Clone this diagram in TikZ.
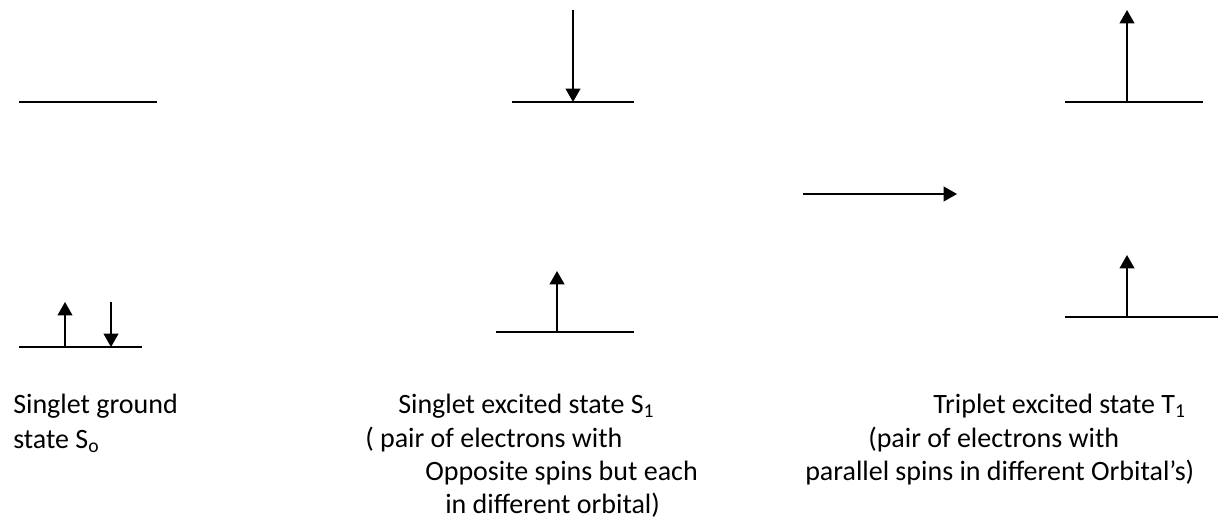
\documentclass[tikz,border=0pt]{standalone}
\usepackage{fontspec}
\setmainfont{Carlito}
\usetikzlibrary{arrows.meta}
\begin{document}
\begin{tikzpicture}[x=0.75pt,y=-0.75pt]

% definitions
\tikzstyle{level} = [line width=1.4pt]
\tikzstyle{spin} = [line width=1.4pt, -{Triangle[width=11pt,length=10pt]}]
\tikzstyle{caption} = [anchor=base west, inner sep=0pt, font=\fontsize{21}{26}\selectfont]

\useasboundingbox (0,0) rectangle (1227,528);

% singlet ground state
\coordinate (g0a) at (19,102);  \coordinate (g0b) at (157,102);
\coordinate (g1a) at (19,347);  \coordinate (g1b) at (142,347);
\coordinate (gup0) at (65,347); \coordinate (gup1) at (65,302);
\coordinate (gdn0) at (111,302); \coordinate (gdn1) at (111,347);

\draw [level] (g0a) -- (g0b);
\draw [level] (g1a) -- (g1b);
\draw [spin] (gup0) -- (gup1);
\draw [spin] (gdn0) -- (gdn1);

% singlet excited state
\coordinate (s0a) at (512,102);  \coordinate (s0b) at (634,102);
\coordinate (s1a) at (496,332);  \coordinate (s1b) at (634,332);
\coordinate (sdn0) at (573,10);  \coordinate (sdn1) at (573,102);
\coordinate (sup0) at (557,332); \coordinate (sup1) at (557,271);

\draw [level] (s0a) -- (s0b);
\draw [level] (s1a) -- (s1b);
\draw [spin] (sdn0) -- (sdn1);
\draw [spin] (sup0) -- (sup1);

% intersystem crossing
\coordinate (isc0) at (803,194); \coordinate (isc1) at (957,194);
\draw [spin] (isc0) -- (isc1);

% triplet excited state
\coordinate (t0a) at (1065,102); \coordinate (t0b) at (1203,102);
\coordinate (t1a) at (1065,317); \coordinate (t1b) at (1218,317);
\coordinate (tup0) at (1127,102); \coordinate (tup1) at (1127,10);
\coordinate (tup2) at (1127,317); \coordinate (tup3) at (1127,255);

\draw [level] (t0a) -- (t0b);
\draw [level] (t1a) -- (t1b);
\draw [spin] (tup0) -- (tup1);
\draw [spin] (tup2) -- (tup3);

% captions
\node (cg1) [caption] at (13,413) {Singlet ground};
\node (cg2) [caption] at (13,448) {state S\textsubscript{o}};

\node (cs1) [caption] at (398,413) {Singlet excited state S\textsubscript{1}};
\node (cs2) [caption] at (365,447) {( pair of electrons with};
\node (cs3) [caption] at (425,480) {Opposite spins but each};
\node (cs4) [caption] at (445,513) {in different orbital)};

\node (ct1) [caption] at (933,413) {Triplet excited state T\textsubscript{1}};
\node (ct2) [caption] at (868,447) {(pair of electrons with};
\node (ct3) [caption] at (805,480) {parallel spins in different Orbital’s)};

\end{tikzpicture}
\end{document}
